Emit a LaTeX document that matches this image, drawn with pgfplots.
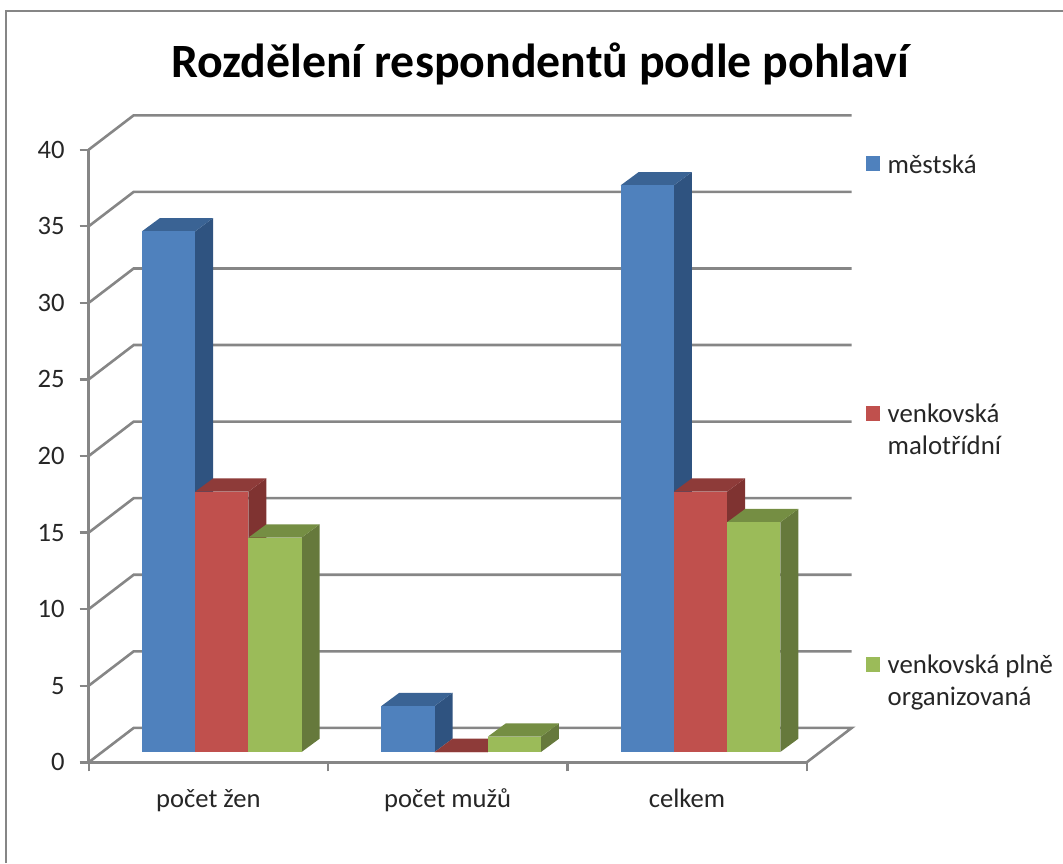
\documentclass[border=0pt]{standalone}
\usepackage{fontspec}
\setmainfont{Carlito}
\usepackage{pgfplots}
\pgfplotsset{compat=1.18}

\definecolor{gridgray}{HTML}{868686}
\definecolor{txt}{HTML}{262626}
\definecolor{blueF}{HTML}{4F81BD}
\definecolor{blueS}{HTML}{2F5380}
\definecolor{blueT}{HTML}{3A6394}
\definecolor{redF}{HTML}{C0504D}
\definecolor{redS}{HTML}{7F3331}
\definecolor{redT}{HTML}{8E3B39}
\definecolor{greenF}{HTML}{9BBB59}
\definecolor{greenS}{HTML}{66793C}
\definecolor{greenT}{HTML}{758E43}

% one 3D looking column: left edge, value, colour prefix
\newcommand{\barbox}[3]{%
  \pgfmathsetmacro\xa{#1}%
  \pgfmathsetmacro\xb{#1+0.2223}%
  \pgfmathsetmacro\xc{#1+0.2223+0.0752}%
  \pgfmathsetmacro\xd{#1+0.0752}%
  \pgfmathsetmacro\ya{0.6725}%
  \pgfmathsetmacro\yb{0.6725+#2}%
  \pgfmathsetmacro\yc{0.6725+0.868}%
  \pgfmathsetmacro\yd{0.6725+0.868+#2}%
  \addplot[fill=#3S,draw=none] coordinates {(\xb,\ya)(\xc,\yc)(\xc,\yd)(\xb,\yb)};
  \addplot[fill=#3T,draw=none] coordinates {(\xa,\yb)(\xb,\yb)(\xc,\yd)(\xd,\yd)};
  \addplot[fill=#3F,draw=none] coordinates {(\xa,\ya)(\xb,\ya)(\xb,\yb)(\xa,\yb)};
}

\begin{document}
\begin{tikzpicture}
\begin{axis}[
  x=119.665pt,
  y=7.6575pt,
  xmin=0,xmax=3,
  ymin=0,ymax=40,
  clip=false,
  axis x line*=bottom,
  axis y line*=left,
  axis line style={gridgray,line width=1.3pt,-},
  tick style={gridgray,line width=1.2pt},
  tick align=outside,
  major tick length=4.5pt,
  xtick={0,1,2,3},
  xticklabels={,,,},
  extra x ticks={0.5,1.5,2.5},
  extra x tick labels={počet žen,počet mužů,celkem},
  extra x tick style={major tick length=0pt},
  ytick={0,5,...,40},
  ticklabel style={font=\fontsize{13.3}{15}\selectfont,text=txt},
  xticklabel style={yshift=-9.5pt,text height=9.5pt,text depth=3pt},
  yticklabel style={xshift=-4pt},
  /pgf/number format/assume math mode=true,
]
% walls and floor
\addplot[gridgray,line width=1.3pt] coordinates {(3,0)(3.188,2.246)(0.188,2.246)(0,0)};
\addplot[gridgray,line width=1.3pt] coordinates {(0,5)(0.188,7.246)(3.188,7.246)};
\addplot[gridgray,line width=1.3pt] coordinates {(0,10)(0.188,12.246)(3.188,12.246)};
\addplot[gridgray,line width=1.3pt] coordinates {(0,15)(0.188,17.246)(3.188,17.246)};
\addplot[gridgray,line width=1.3pt] coordinates {(0,20)(0.188,22.246)(3.188,22.246)};
\addplot[gridgray,line width=1.3pt] coordinates {(0,25)(0.188,27.246)(3.188,27.246)};
\addplot[gridgray,line width=1.3pt] coordinates {(0,30)(0.188,32.246)(3.188,32.246)};
\addplot[gridgray,line width=1.3pt] coordinates {(0,35)(0.188,37.246)(3.188,37.246)};
\addplot[gridgray,line width=1.3pt] coordinates {(0,40)(0.188,42.246)(3.188,42.246)};
% počet žen
\barbox{0.2227}{34}{blue}
\barbox{0.4450}{17}{red}
\barbox{0.6673}{14}{green}
% počet mužů
\barbox{1.2227}{3}{blue}
\barbox{1.4450}{0}{red}
\barbox{1.6673}{1}{green}
% celkem
\barbox{2.2227}{37}{blue}
\barbox{2.4450}{17}{red}
\barbox{2.6673}{15}{green}
\end{axis}
% outer frame, open at right and bottom like the cropped original
\draw[gridgray,line width=1.2pt] (-41.35pt,-50.35pt) -- (-41.35pt,375.65pt) -- (487.15pt,375.65pt);
\node[anchor=base,inner sep=0pt,font=\bfseries\fontsize{23.9}{28}\selectfont] at (225.65pt,342.3pt) {Rozdělení respondentů podle pohlaví};
% legend
\fill[blueF] (388.65pt,295.75pt) rectangle (395.65pt,303.15pt);
\fill[redF] (388.65pt,170.85pt) rectangle (395.65pt,178.25pt);
\fill[greenF] (388.65pt,45.1pt) rectangle (395.65pt,52.7pt);
\begin{scope}[every node/.style={anchor=base west,inner sep=0pt,text=txt,font=\fontsize{13.4}{15}\selectfont}]
\node at (399.3pt,294.4pt) {městská};
\node at (399.3pt,170.0pt) {venkovská};
\node at (399.3pt,153.8pt) {malotřídní};
\node at (399.3pt,44.6pt) {venkovská plně};
\node at (399.3pt,28.6pt) {organizovaná};
\end{scope}
\pgfresetboundingbox
\path[use as bounding box] (-44.35pt,-50.35pt) rectangle (487.15pt,381.15pt);
\end{tikzpicture}
\end{document}
